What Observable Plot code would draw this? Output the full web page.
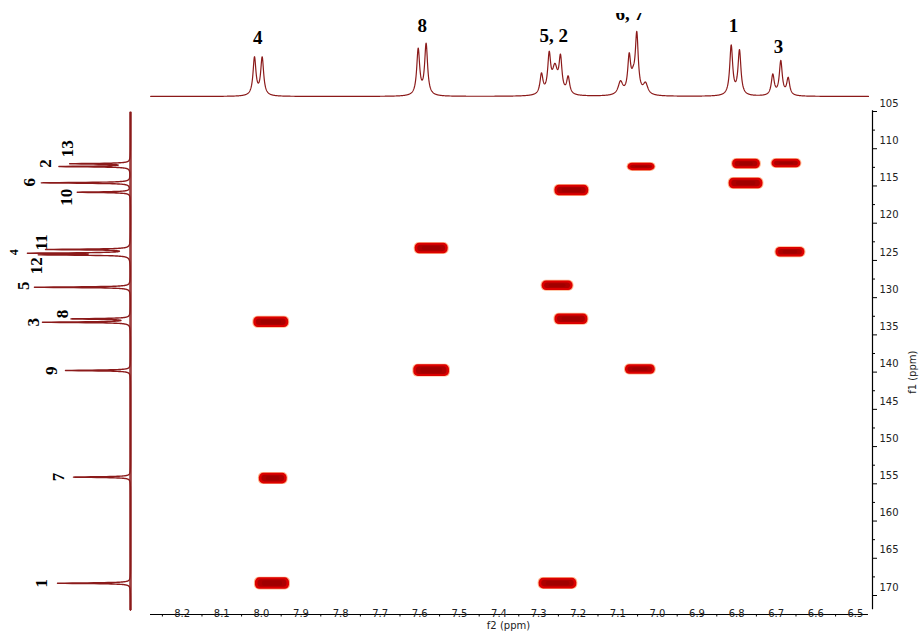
<!DOCTYPE html>
<html><head><meta charset="utf-8">
<script src="https://cdn.jsdelivr.net/npm/d3@7"></script>
<script src="https://cdn.jsdelivr.net/npm/@observablehq/plot@0.6"></script>
<style>
body{margin:0;background:#fff;}
#wrap{position:relative;width:920px;height:638px;overflow:hidden;background:#fff;}
#wrap svg{position:absolute;left:0;top:0;}
</style></head><body><div id="wrap"></div>
<script>
// ---- 2D cross peaks (f2 = 1H ppm, f1 = 13C ppm) ----
const crossH  = [6.775, 6.674, 6.776, 7.040, 7.216, 7.570, 6.664, 7.252, 7.217, 7.975, 7.570, 7.043, 7.970, 7.972, 7.251];
const crossC  = [112.05, 111.98, 114.67, 112.45, 115.6, 123.4, 123.9, 128.4, 132.9, 133.3, 139.8, 139.65, 154.3, 168.4, 168.4];
const crossWH = [0.070, 0.073, 0.085, 0.068, 0.085, 0.083, 0.073, 0.078, 0.083, 0.088, 0.090, 0.075, 0.070, 0.086, 0.095];
const crossWC = [1.3, 1.15, 1.42, 1.0, 1.42, 1.42, 1.3, 1.3, 1.42, 1.42, 1.55, 1.3, 1.42, 1.55, 1.42];

// ---- 1H projection (top): line positions (ppm), heights and half-widths ----
const hLinePpm = [8.0174, 7.998, 7.604, 7.584,
  7.2927, 7.2732, 7.2588, 7.2447, 7.2253,
  7.0932, 7.0712, 7.061, 7.052, 7.03,
  6.8136, 6.7927, 6.7086, 6.6884, 6.6697];
const hLineInt = [37.8, 37.8, 45.9, 51.1,
  20, 37, 26, 34, 17,
  13, 36, 12, 58, 11,
  49.5, 44.5, 20.5, 34, 17];
const hLineHW = [0.0045, 0.0045, 0.0045, 0.0045,
  0.0045, 0.0045, 0.008, 0.0045, 0.0045,
  0.007, 0.0045, 0.006, 0.0045, 0.007,
  0.0045, 0.0045, 0.0045, 0.0045, 0.0045];
const hLabels   = ["4", "8", "5, 2", "6, 7", "1", "3"];
const hLabelPpm = [8.009, 7.594, 7.262, 7.070, 6.808, 6.694];
const hLabelInt = [58.7, 71, 61, 82.5, 71, 49.3];

// ---- 13C projection (left) ----
const cPeakPpm = [112.02, 112.39, 114.58, 115.84, 123.53, 124.03, 124.25, 128.6, 132.85, 133.3, 139.78, 154.1, 168.35];
const cPeakInt = [59, 70, 89, 53, 83, 96, 85, 96, 58, 87, 65, 57, 73];
const cLabels   = ["13", "2", "6", "10", "11", "4", "12", "5", "8", "3", "9", "7", "1"];
const cLabelPpm = [110.0, 112.0, 114.5, 116.5, 122.55, 123.9, 125.7, 128.4, 132.2, 133.3, 139.8, 154.1, 168.35];
const cLabelInt = [63, 85, 100.7, 64, 89, 116, 94, 107, 68, 97, 79, 72, 89];

// ---- axis tick labels ----
const xTickLabels = ["8.2","8.1","8.0","7.9","7.8","7.7","7.6","7.5","7.4","7.3","7.2","7.1","7.0","6.9","6.8","6.7","6.6","6.5"];
const yTickLabels = ["105","110","115","120","125","130","135","140","145","150","155","160","165","170"];

// ---- layout / scales ----
const W = 920, H = 638;
const X_DOMAIN = [8.28, 6.4568];
const Y_DOMAIN = [105, 172.55];
const M = {marginLeft: 150, marginRight: 48, marginTop: 111, marginBottom: 24};
const pxPerX = (W - M.marginLeft - M.marginRight) / (X_DOMAIN[0] - X_DOMAIN[1]);
const pxPerY = (H - M.marginTop - M.marginBottom) / (Y_DOMAIN[1] - Y_DOMAIN[0]);
const LINE = "#8b1a1a";
const SANS = "DejaVu Sans";
const SERIF = "Liberation Serif";

function lorentz(pos, hts, gam, from, to, step) {
  const g = k => Array.isArray(gam) ? gam[k] : gam;
  const grid = d3.range(from, to, step).concat(pos.filter(p => p >= from && p <= to)).sort(d3.ascending);
  return grid.map(p => ({ppm: p, i: d3.sum(pos, (q, k) => hts[k] / (1 + ((p - q) / g(k)) ** 2))}));
}

const cross = crossH.map((h, k) => ({h, c: crossC[k], wh: crossWH[k], wc: crossWC[k]}));
const rectCh = {
  x1: d => d.h + d.wh / 2, x2: d => d.h - d.wh / 2,
  y1: d => d.c - d.wc / 2, y2: d => d.c + d.wc / 2
};
const xTicks = xTickLabels.map(Number);
const xMinor = xTicks.map(v => v + 0.05).filter(v => v < X_DOMAIN[0]);
const yTicks = yTickLabels.map(Number);
const yMinor = yTicks.map(v => v + 2.5).filter(v => v < 171);
const xR = X_DOMAIN[1];
const yB = Y_DOMAIN[1];

const mainPlot = Plot.plot({
  width: W, height: H, ...M,
  x: {domain: X_DOMAIN, axis: null},
  y: {domain: Y_DOMAIN, reverse: true, axis: null},
  style: {background: "transparent", fontFamily: SANS, overflow: "visible"},
  marks: [
    Plot.rect(cross, {...rectCh, fill: "#ff5a00", fillOpacity: 0.45, insetLeft: -1, insetRight: -1, insetTop: -0.7, insetBottom: -0.7, rx: 5}),
    Plot.rect(cross, {...rectCh, fill: "#dc0000", rx: 4.5}),
    Plot.rect(cross, {...rectCh, fill: "#ad0000", insetLeft: 2.5, insetRight: 2.5, insetTop: 2, insetBottom: 2, rx: 3.5}),
    Plot.rect(cross, {...rectCh, fill: "#9a0000", fillOpacity: 0.7, insetLeft: 7, insetRight: 7, insetTop: 3.2, insetBottom: 3.2, rx: 2}),
    // bottom axis
    Plot.ruleY([yB], {x1: X_DOMAIN[0], x2: 6.467, stroke: "#000", strokeWidth: 1}),
    Plot.ruleX(xMinor, {x: d => d, y1: yB, y2: yB + 2.5 / pxPerY, stroke: "#000"}),
    Plot.text(xTickLabels, {x: d => Number(d), text: d => d, frameAnchor: "bottom", dy: 2, fontSize: 10, fill: "#222"}),
    Plot.text(["f2 (ppm)"], {x: 7.376, frameAnchor: "bottom", dy: 14, fontSize: 10, fill: "#222"}),
    // right axis
    Plot.ruleX([xR], {y1: Y_DOMAIN[0] - 0.1, y2: 171.9, stroke: "#000", strokeWidth: 1.2}),
    Plot.ruleY(yTicks, {y: d => d, x1: xR, x2: xR - 5 / pxPerX, stroke: "#000"}),
    Plot.ruleY(yMinor, {y: d => d, x1: xR, x2: xR - 3 / pxPerX, stroke: "#000"}),
    Plot.text(yTickLabels, {y: d => Number(d), text: d => d, frameAnchor: "right", dx: 7, dy: -8, textAnchor: "start", fontSize: 10, fill: "#222"}),
    Plot.text(["f1 (ppm)"], {y: 137.1, frameAnchor: "right", dx: 40, rotate: -90, fontSize: 10, fill: "#222"})
  ]
});

const topCurve = lorentz(hLinePpm, hLineInt, hLineHW, 6.467, 8.28, 0.0005);
const topLab = hLabels.map((t, k) => ({t, p: hLabelPpm[k], i: hLabelInt[k]}));
const topPlot = Plot.plot({
  width: W, height: H, marginLeft: M.marginLeft, marginRight: M.marginRight, marginTop: 26, marginBottom: 542,
  x: {domain: X_DOMAIN, axis: null},
  y: {domain: [0, 70], axis: null},
  style: {background: "transparent", overflow: "visible"},
  marks: [
    Plot.line(topCurve, {x: "ppm", y: "i", stroke: LINE, strokeWidth: 1.2}),
    Plot.text(topLab, {x: "p", y: "i", text: "t", fontFamily: SERIF, fontWeight: "bold", fontSize: 19, fill: "#000"})
  ]
});
topPlot.style.clipPath = "inset(13px 0 0 0)";

const leftCurve = lorentz(cPeakPpm, cPeakInt, 0.06, 105.1, 172.0, 0.01);
const leftLab = cLabels.map((t, k) => ({t, p: cLabelPpm[k], i: cLabelInt[k]}));
const leftPlot = Plot.plot({
  width: W, height: H, marginLeft: 30, marginRight: W - 130, marginTop: M.marginTop, marginBottom: M.marginBottom,
  x: {domain: [0, 100], reverse: true, axis: null},
  y: {domain: Y_DOMAIN, reverse: true, axis: null},
  style: {background: "transparent", overflow: "visible"},
  marks: [
    Plot.ruleX([0], {y1: 105.1, y2: 172.0, stroke: LINE, strokeWidth: 2.6, strokeOpacity: 0.85}),
    Plot.line(leftCurve, {x: "i", y: "ppm", stroke: LINE, strokeWidth: 1.4}),
    Plot.text(leftLab.filter(d => d.t !== "4"), {x: "i", y: "p", text: "t", rotate: -90, fontFamily: SERIF, fontWeight: "bold", fontSize: 17, fill: "#000"}),
    Plot.text(leftLab.filter(d => d.t === "4"), {x: "i", y: "p", text: "t", rotate: -90, fontFamily: SERIF, fontWeight: "bold", fontSize: 12, fill: "#000"})
  ]
});

const wrap = document.getElementById("wrap");
wrap.append(mainPlot, topPlot, leftPlot);
</script>
</body></html>
